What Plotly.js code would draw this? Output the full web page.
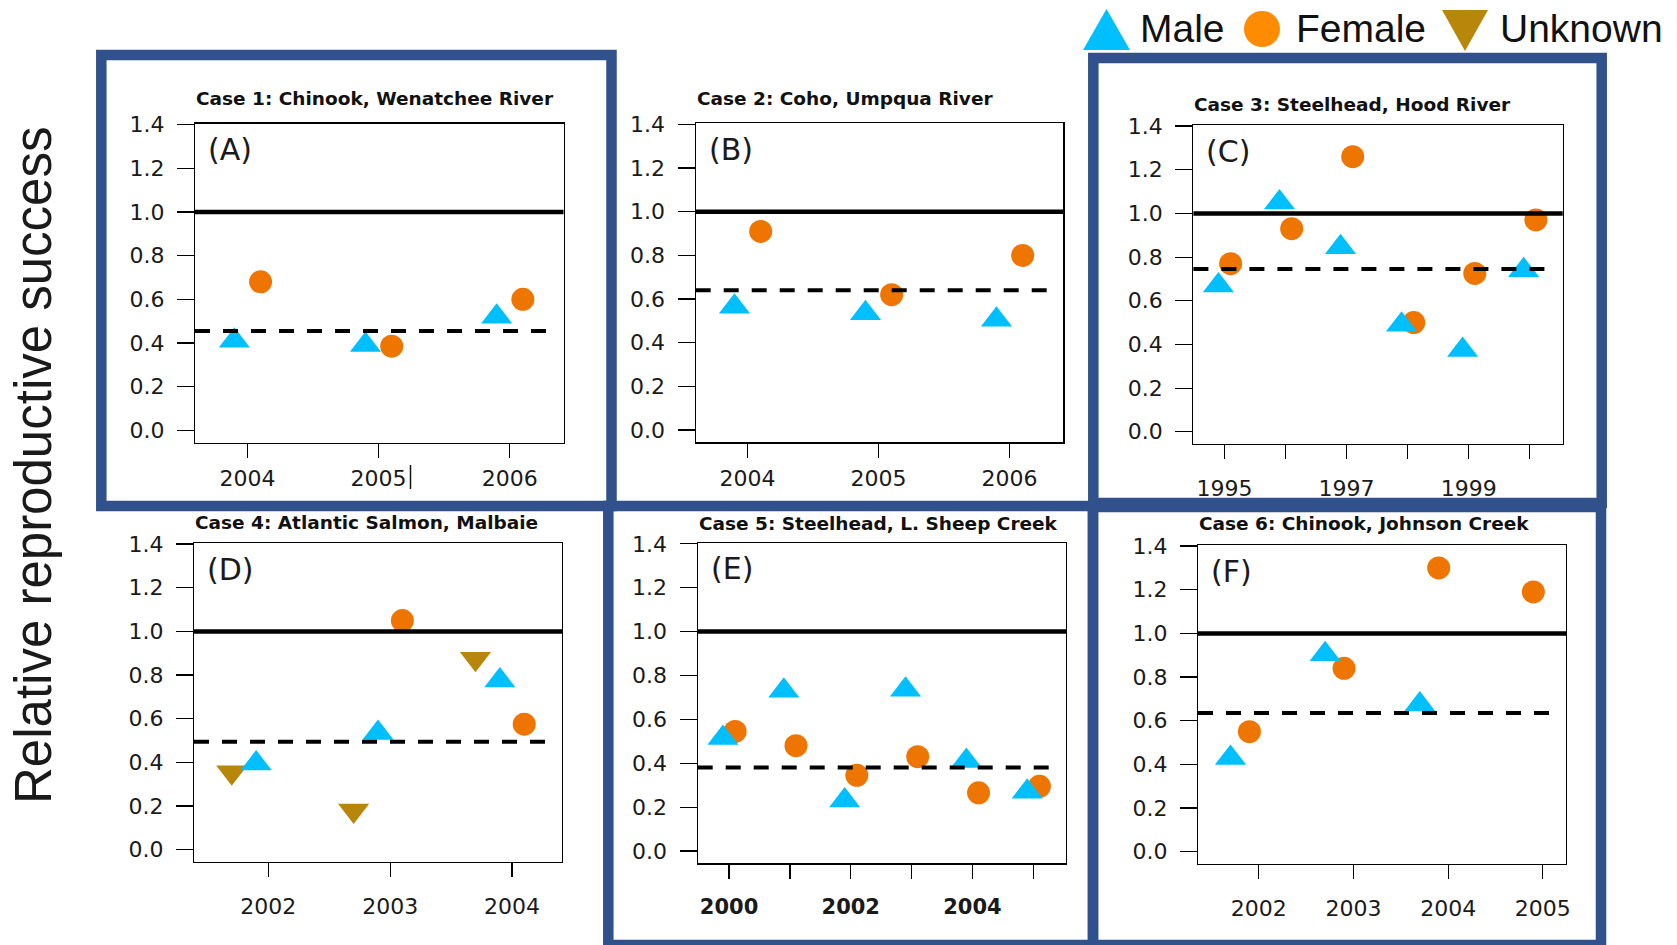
<!DOCTYPE html>
<html><head><meta charset="utf-8">
<script src="https://cdn.plot.ly/plotly-3.0.1.min.js"></script>
<style>html,body{margin:0;padding:0;background:#fff;} #chart{width:1677px;height:945px;}</style>
</head><body><div id="chart"></div>
<script>
// ---------------- data ----------------
const panelTitles = ["Case 1: Chinook, Wenatchee River", "Case 2: Coho, Umpqua River",
  "Case 3: Steelhead, Hood River", "Case 4: Atlantic Salmon, Malbaie",
  "Case 5: Steelhead, L. Sheep Creek", "Case 6: Chinook, Johnson Creek"];
const panelLetters = ["(A)", "(B)", "(C)", "(D)", "(E)", "(F)"];

const yearsA = [2004, 2005, 2006];
const maleA = [0.41, 0.39, 0.52];
const femaleA = [0.68, 0.385, 0.60];
const unknownA = [null, null, null];
const meanA = 0.455;

const yearsB = [2004, 2005, 2006];
const maleB = [0.565, 0.535, 0.505];
const femaleB = [0.91, 0.62, 0.80];
const unknownB = [null, null, null];
const meanB = 0.64;

const yearsC = [1995, 1996, 1997, 1998, 1999, 2000];
const maleC = [0.67, 1.05, 0.845, 0.49, 0.375, 0.74];
const femaleC = [0.77, 0.93, 1.26, 0.50, 0.725, 0.97];
const unknownC = [null, null, null, null, null, null];
const meanC = 0.745;

const yearsD = [2002, 2003, 2004];
const maleD = [0.395, 0.535, 0.775];
const femaleD = [null, 1.05, 0.575];
const unknownD = [0.355, 0.18, 0.875];
const meanD = 0.495;

const yearsE = [2000, 2001, 2002, 2003, 2004, 2005];
const maleE = [0.515, 0.73, 0.23, 0.735, 0.41, 0.27];
const femaleE = [0.545, 0.48, 0.345, 0.43, 0.265, 0.295];
const unknownE = [null, null, null, null, null, null];
const meanE = 0.38;

const yearsF = [2002, 2003, 2004, 2005];
const maleF = [0.43, 0.905, 0.675, null];
const femaleF = [0.55, 0.84, 1.30, 1.19];
const unknownF = [null, null, null, null];
const meanF = 0.635;

const xTickTextA = ["2004", "2005", "2006"];
const xTickTextB = ["2004", "2005", "2006"];
const xTickTextC = ["1995", "", "1997", "", "1999", ""];
const xTickTextD = ["2002", "2003", "2004"];
const xTickTextE = ["2000", "", "2002", "", "2004", ""];
const xTickTextF = ["2002", "2003", "2004", "2005"];

const yTickVals = [0, 0.2, 0.4, 0.6, 0.8, 1.0, 1.2, 1.4];
const yTickText = ["0.0", "0.2", "0.4", "0.6", "0.8", "1.0", "1.2", "1.4"];
const referenceValue = 1.0;
const legendLabels = ["Male", "Female", "Unknown"];
const yAxisLabel = "Relative reproductive success";

// ---------------- layout config (positions / styles) ----------------
const W = 1677, H = 945;
const panels = [
  {years: yearsA, male: maleA, female: femaleA, unknown: unknownA, mean: meanA, ticktext: xTickTextA,
   box: [195, 563.5, 123.5, 442.5], xr: [2003.6, 2006.41], off: {male: -0.1, female: 0.1, unknown: -0.3}, titleY: 98.3, xStand: 2, bold: false},
  {years: yearsB, male: maleB, female: femaleB, unknown: unknownB, mean: meanB, ticktext: xTickTextB,
   box: [695.7, 1063.3, 123.3, 442.3], xr: [2003.604, 2006.41], off: {male: -0.1, female: 0.1, unknown: -0.3}, titleY: 98.3, xStand: 2, bold: false},
  {years: yearsC, male: maleC, female: femaleC, unknown: unknownC, mean: meanC, ticktext: xTickTextC,
   box: [1193.4, 1562.7, 125, 444], xr: [1994.49, 2000.54], off: {male: -0.1, female: 0.1, unknown: -0.3}, titleY: 104, xStand: 10, bold: false},
  {years: yearsD, male: maleD, female: femaleD, unknown: unknownD, mean: meanD, ticktext: xTickTextD,
   box: [194, 562, 543, 862], xr: [2001.39, 2004.41], off: {male: -0.1, female: 0.1, unknown: -0.3}, titleY: 522, xStand: 10, bold: false},
  {years: yearsE, male: maleE, female: femaleE, unknown: unknownE, mean: meanE, ticktext: xTickTextE,
   box: [697.7, 1066, 542.7, 863.3], xr: [1999.485, 2005.537], off: {male: -0.1, female: 0.1, unknown: -0.3}, titleY: 523.7, xStand: 10, bold: true},
  {years: yearsF, male: maleF, female: femaleF, unknown: unknownF, mean: meanF, ticktext: xTickTextF,
   box: [1198, 1566, 545, 864], xr: [2001.357, 2005.245], off: {male: -0.3, female: -0.1, unknown: -0.5}, titleY: 523, xStand: 10, bold: false}
];

const MALE_COLOR = '#00BFFF', FEMALE_COLOR = '#EE7500', UNKNOWN_COLOR = '#B8860B';
const FRAME_COLOR = '#30518C';
const px = v => v / W;
const py = v => 1 - v / H;

const traces = [];
const shapes = [];
const annotations = [];
const layout = {
  width: W, height: H, margin: {l: 0, r: 0, t: 0, b: 0, pad: 0},
  paper_bgcolor: '#ffffff', plot_bgcolor: '#ffffff', showlegend: false,
  font: {family: 'DejaVu Sans', color: '#1a1a1a'}
};

panels.forEach((p, i) => {
  const s = i === 0 ? '' : String(i + 1);
  const xa = 'x' + s, ya = 'y' + s;
  const series = [
    {vals: p.female, off: p.off.female, symbol: 'circle', size: 23, color: FEMALE_COLOR},
    {vals: p.unknown, off: p.off.unknown, symbol: 'triangle-down', size: 27, color: UNKNOWN_COLOR},
    {vals: p.male, off: p.off.male, symbol: 'triangle-up', size: 27, color: MALE_COLOR}
  ];
  series.forEach(se => {
    traces.push({
      type: 'scatter', mode: 'markers', xaxis: xa, yaxis: ya,
      x: p.years.map(y => y + se.off), y: se.vals,
      marker: {symbol: se.symbol, size: se.size, color: se.color, line: {width: 0}},
      hoverinfo: 'skip', cliponaxis: false
    });
  });
  layout['xaxis' + s] = {
    domain: [px(p.box[0]), px(p.box[1])], range: p.xr, anchor: ya,
    tickmode: 'array', tickvals: p.years, ticktext: p.ticktext,
    ticks: 'outside', ticklen: 14, tickwidth: 1.2, tickcolor: '#000',
    showline: true, mirror: true, linecolor: '#000', linewidth: 1.2,
    showgrid: false, zeroline: false, fixedrange: true,
    ticklabelstandoff: p.xStand,
    tickfont: {family: 'DejaVu Sans', size: p.bold ? 21 : 22, color: '#1a1a1a', weight: p.bold ? 'bold' : 'normal'}
  };
  layout['yaxis' + s] = {
    domain: [py(p.box[3]), py(p.box[2])], range: [-0.056, 1.405], anchor: xa,
    tickmode: 'array', tickvals: yTickVals, ticktext: yTickText,
    ticks: 'outside', ticklen: 17, tickwidth: 1.2, tickcolor: '#000',
    showline: true, mirror: true, linecolor: '#000', linewidth: 1.2,
    showgrid: false, zeroline: false, fixedrange: true,
    ticklabelstandoff: 8,
    tickfont: {family: 'DejaVu Sans', size: 22, color: '#1a1a1a'}
  };
  // reference line at 1.0 and dashed mean line
  shapes.push({type: 'line', layer: 'above', xref: xa + ' domain', yref: ya, x0: 0, x1: 1,
    y0: referenceValue, y1: referenceValue, line: {color: '#000', width: 4.5}});
  shapes.push({type: 'line', layer: 'above', xref: xa + ' domain', yref: ya, x0: 0, x1: 0.956,
    y0: p.mean, y1: p.mean, line: {color: '#000', width: 4, dash: '15px,13px'}});
  // panel title and letter
  annotations.push({xref: 'paper', yref: 'paper', x: px(p.box[0]), y: py(p.titleY),
    xanchor: 'left', yanchor: 'middle', showarrow: false, borderpad: 0, text: panelTitles[i],
    font: {family: 'DejaVu Sans', size: 18.5, weight: 'bold', color: '#111'}});
  annotations.push({xref: 'paper', yref: 'paper', x: px(p.box[0] + 12), y: py(p.box[2] + 26),
    xanchor: 'left', yanchor: 'middle', showarrow: false, borderpad: 0, text: panelLetters[i],
    font: {family: 'DejaVu Sans', size: 30, color: '#1a1a1a'}});
});

// blue frames around panels A, C, E, F
const frames = [[101.3, 55, 611.5, 506], [1093.3, 58, 1601.7, 503], [608.3, 506, 1093, 945], [1093, 507, 1601, 945]];
frames.forEach(f => shapes.push({type: 'rect', layer: 'above', xref: 'paper', yref: 'paper',
  x0: px(f[0]), x1: px(f[2]), y0: py(f[3]), y1: py(f[1]), fillcolor: 'rgba(0,0,0,0)',
  line: {color: FRAME_COLOR, width: 10.5}}));

// stray cursor mark after "2005" in panel A
shapes.push({type: 'line', layer: 'above', xref: 'paper', yref: 'paper',
  x0: px(410.5), x1: px(410.5), y0: py(465), y1: py(489), line: {color: '#111', width: 1.5}});

// legend symbols
const tri = (pts) => 'M' + pts.map(q => px(q[0]) + ',' + py(q[1])).join(' L') + ' Z';
shapes.push({type: 'path', layer: 'above', xref: 'paper', yref: 'paper',
  path: tri([[1106.5, 9], [1083, 50], [1130, 50]]), fillcolor: MALE_COLOR, line: {width: 0}});
shapes.push({type: 'circle', layer: 'above', xref: 'paper', yref: 'paper',
  x0: px(1244), x1: px(1280), y0: py(47), y1: py(11), fillcolor: '#FF8C00', line: {width: 0}});
shapes.push({type: 'path', layer: 'above', xref: 'paper', yref: 'paper',
  path: tri([[1442, 10], [1488, 10], [1465, 51]]), fillcolor: UNKNOWN_COLOR, line: {width: 0}});
const legendX = [1139, 1295, 1499];
legendLabels.forEach((t, k) => annotations.push({xref: 'paper', yref: 'paper', x: px(legendX[k]), y: py(28.5),
  xanchor: 'left', yanchor: 'middle', showarrow: false, borderpad: 0, text: t,
  font: {family: 'Liberation Sans', size: 39, color: '#111'}}));

// global y label
annotations.push({xref: 'paper', yref: 'paper', x: px(34), y: py(466), xanchor: 'center', yanchor: 'middle',
  showarrow: false, textangle: -90, text: yAxisLabel, borderpad: 0,
  font: {family: 'Liberation Sans', size: 51, color: '#1a1a1a'}});

layout.shapes = shapes;
layout.annotations = annotations;
Plotly.newPlot('chart', traces, layout, {staticPlot: true, displayModeBar: false});
</script></body></html>
